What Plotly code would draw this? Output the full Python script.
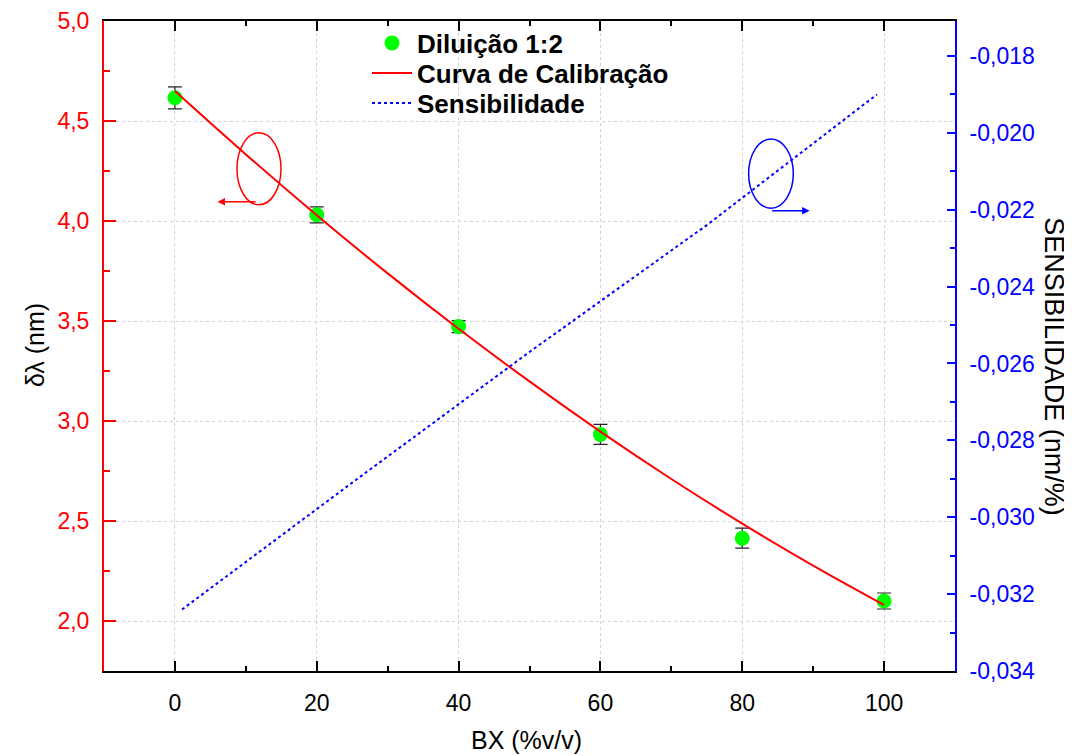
import plotly.graph_objects as go

# Data
bx = [0, 20, 40, 60, 80, 100]
delta = [4.616, 4.031, 3.472, 2.933, 2.414, 2.100]
delta_err = [0.055, 0.04, 0.03, 0.05, 0.05, 0.04]

curve_x = [0, 10, 20, 30, 40, 50, 60, 70, 80, 90, 100]
curve_y = [4.650, 4.333, 4.029, 3.738, 3.461, 3.198, 2.947, 2.710, 2.487, 2.277, 2.080]

sens_x = [1, 25, 50, 75, 99]
sens_y = [-0.0324, -0.0291, -0.0257, -0.0224, -0.0190]

x_ticks = [0, 20, 40, 60, 80, 100]
y_ticks = [2.0, 2.5, 3.0, 3.5, 4.0, 4.5, 5.0]
y_ticktext = ["2,0", "2,5", "3,0", "3,5", "4,0", "4,5", "5,0"]
y2_ticks = [-0.034, -0.032, -0.030, -0.028, -0.026, -0.024, -0.022, -0.020, -0.018]
y2_ticktext = ["-0,034", "-0,032", "-0,030", "-0,028", "-0,026", "-0,024", "-0,022", "-0,020", "-0,018"]

FONT = "Liberation Sans, Arial, sans-serif"
RED = "#FF0000"
BLUE = "#0000FF"
GREEN = "#00FF00"
TICK_SIZE = 23
TITLE_SIZE = 25
LEG_SIZE = 26

fig = go.Figure()

fig.add_trace(go.Scatter(
    x=bx, y=delta, mode="markers", name="Diluição 1:2", legend="legend",
    marker=dict(color=GREEN, size=15, symbol="circle"),
    error_y=dict(type="data", array=delta_err, color="#222222", thickness=1.2, width=7),
))
fig.add_trace(go.Scatter(
    x=curve_x, y=curve_y, mode="lines", name="Curva de Calibração", legend="legend2",
    line=dict(color=RED, width=2, shape="spline"),
))
fig.add_trace(go.Scatter(
    x=sens_x, y=sens_y, mode="lines", name="Sensibilidade", yaxis="y2", legend="legend3",
    line=dict(color=BLUE, width=2, dash="dot"),
))

# Ellipse + arrow annotations
fig.add_shape(type="circle", xref="x", yref="y", x0=8.75, x1=14.96, y0=4.081, y1=4.441,
              line=dict(color=RED, width=1.5))
fig.add_annotation(x=6.0, y=4.096, ax=11.6, ay=4.096, xref="x", yref="y", axref="x", ayref="y",
                   showarrow=True, arrowhead=2, arrowsize=1, arrowwidth=1.5, arrowcolor=RED, text="")
fig.add_shape(type="circle", xref="x", yref="y2", x0=80.9, x1=87.2, y0=-0.02196, y1=-0.02016,
              line=dict(color=BLUE, width=1.5))
fig.add_annotation(x=89.5, y=4.051, ax=84.0, ay=4.051, xref="x", yref="y", axref="x", ayref="y",
                   showarrow=True, arrowhead=2, arrowsize=1, arrowwidth=1.5, arrowcolor=BLUE, text="")

# Axis titles
fig.add_annotation(text="BX (%v/v)", xref="paper", yref="paper", x=0.496, y=-0.106,
                   xanchor="center", yanchor="middle", showarrow=False,
                   font=dict(family=FONT, size=TITLE_SIZE, color="black"))
fig.add_annotation(text="δλ (nm)", xref="paper", yref="paper", x=-0.081, y=0.5015,
                   xanchor="center", yanchor="middle", textangle=-90, showarrow=False,
                   font=dict(family=FONT, size=TITLE_SIZE, color="black"))
fig.add_annotation(text="SENSIBILIDADE (nm/%)", xref="paper", yref="paper", x=1.117, y=0.468,
                   xanchor="center", yanchor="middle", textangle=90, showarrow=False,
                   font=dict(family=FONT, size=27, color="black"))

leg_common = dict(x=0.3374, xref="container", yref="container", xanchor="left", yanchor="middle",
                  bgcolor="rgba(0,0,0,0)",
                  font=dict(family=FONT, size=LEG_SIZE, color="black", weight="bold"),
                  itemwidth=40, borderwidth=0)

fig.update_layout(
    width=1064, height=748,
    margin=dict(l=96, r=117, t=13, b=85, autoexpand=False),
    paper_bgcolor="white", plot_bgcolor="white",
    font=dict(family=FONT, size=20, color="black"),
    showlegend=True,
    legend=dict(y=0.9532, **leg_common),
    legend2=dict(y=0.9131, **leg_common),
    legend3=dict(y=0.873, **leg_common),
    xaxis=dict(
        range=[-10, 110], tickvals=x_ticks, ticks="inside", ticklen=10, tickwidth=2, tickcolor="black",
        minor=dict(dtick=10, ticks="inside", ticklen=5, tickwidth=2, tickcolor="black", showgrid=False),
        showline=True, linecolor="black", linewidth=2, mirror="ticks",
        showgrid=True, gridcolor="#d2d2d2", griddash="dot", gridwidth=1,
        zeroline=False, ticklabelstandoff=10, automargin=False,
        tickfont=dict(size=TICK_SIZE, color="black"),
    ),
    yaxis=dict(
        range=[1.75, 5.0], tickvals=y_ticks, ticktext=y_ticktext,
        ticks="inside", ticklen=12, tickwidth=2, tickcolor=RED,
        minor=dict(dtick=0.25, ticks="inside", ticklen=6, tickwidth=2, tickcolor=RED, showgrid=False),
        showline=True, linecolor=RED, linewidth=2,
        showgrid=True, gridcolor="#d2d2d2", griddash="dot", gridwidth=1,
        zeroline=False, ticklabelstandoff=8, automargin=False,
        tickfont=dict(size=TICK_SIZE, color=RED),
    ),
    yaxis2=dict(
        overlaying="y", side="right",
        range=[-0.034, -0.01709], tickvals=y2_ticks, ticktext=y2_ticktext,
        ticks="inside", ticklen=8, tickwidth=2, tickcolor=BLUE,
        minor=dict(dtick=0.001, tick0=-0.034, ticks="inside", ticklen=5, tickwidth=2, tickcolor=BLUE, showgrid=False),
        showline=True, linecolor=BLUE, linewidth=2,
        showgrid=False, zeroline=False, ticklabelstandoff=8, automargin=False,
        tickfont=dict(size=TICK_SIZE, color=BLUE),
    ),
)

fig.write_html("out.html")
